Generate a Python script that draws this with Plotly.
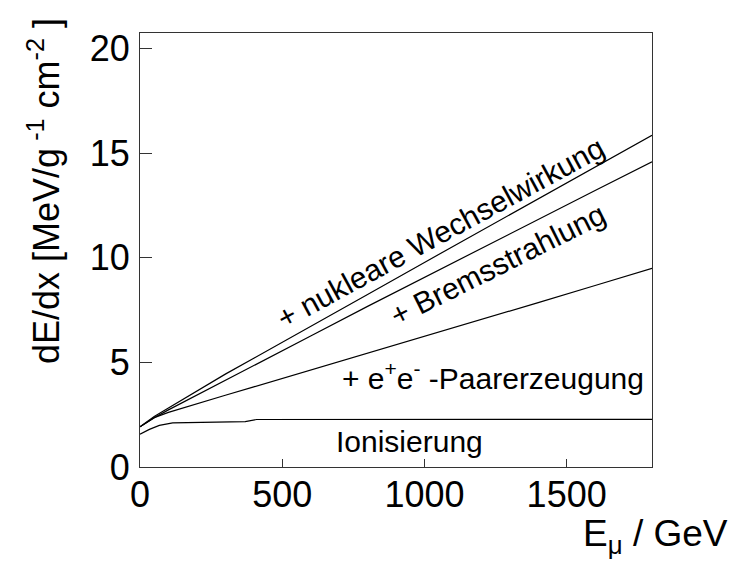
import plotly.graph_objects as go

# Muon energy grid (GeV) and cumulative energy loss dE/dx (MeV g^-1 cm^2)
energy = [0, 50, 100, 200, 300, 400, 500, 600, 800, 1000, 1200, 1400, 1600, 1800]
nuclear = [1.92, 2.41, 2.82, 3.64, 4.44, 5.20, 5.97, 6.72, 8.25, 9.78, 11.31, 12.82, 14.34, 15.86]
brems = [1.92, 2.35, 2.73, 3.43, 4.15, 4.86, 5.56, 6.26, 7.68, 9.07, 10.46, 11.85, 13.22, 14.59]
pair = [1.92, 2.36, 2.61, 3.03, 3.43, 3.83, 4.23, 4.63, 5.43, 6.23, 7.04, 7.86, 8.68, 9.50]

energy_ion = [0, 33, 68, 115, 370, 410, 1800]
ionisation = [1.57, 1.80, 1.99, 2.11, 2.17, 2.27, 2.28]

x_ticks = [0, 500, 1000, 1500]
y_ticks = [0, 5, 10, 15, 20]

FONT = "Liberation Sans, Arial, Helvetica, sans-serif"
line_style = dict(color="black", width=1.2)

fig = go.Figure()
for xs, ys in [(energy_ion, ionisation), (energy, pair), (energy, brems), (energy, nuclear)]:
    fig.add_trace(go.Scatter(x=xs, y=ys, mode="lines", line=line_style,
                             showlegend=False, hoverinfo="skip"))

label_font = dict(family=FONT, size=30, color="black")
fig.add_annotation(x=1058, y=11.2, text="+ nukleare Wechselwirkung", textangle=-28.5,
                   showarrow=False, font=label_font)
fig.add_annotation(x=1259, y=9.66, text="+ Bremsstrahlung", textangle=-26.5,
                   showarrow=False, font=label_font)
fig.add_annotation(x=703, y=4.35, text="+ e<sup>+</sup>e<sup>-</sup> -Paarerzeugung",
                   xanchor="left", showarrow=False, font=label_font)
fig.add_annotation(x=946, y=1.24, text="Ionisierung", showarrow=False, font=label_font)

title_font = dict(family=FONT, size=37, color="black")
fig.add_annotation(xref="paper", yref="paper", x=1.152, y=-0.158, xanchor="right",
                   yanchor="middle", text="E<sub>μ</sub> / GeV", showarrow=False,
                   font=title_font)
fig.add_annotation(xref="paper", yref="paper", x=-0.1875, y=0.636, textangle=-90,
                   xanchor="center", yanchor="middle",
                   text="dE/dx [MeV/g<sup> -1</sup> cm<sup>-2</sup> ]",
                   showarrow=False, font=dict(family=FONT, size=36, color="black"))

axis_common = dict(showgrid=False, zeroline=False, showline=True, linecolor="#333333",
                   linewidth=1, mirror=True, ticks="inside", tickcolor="#333333",
                   tickfont=dict(family=FONT, size=36, color="black"))

fig.update_xaxes(range=[0, 1800], tickvals=x_ticks, ticklen=8, ticklabelstandoff=-4,
                 **axis_common)
fig.update_yaxes(range=[0, 20.75], tickvals=y_ticks, ticklen=12, ticklabelstandoff=2,
                 **axis_common)

fig.update_layout(width=733, height=565, margin=dict(l=140, r=81, t=33, b=98),
                  plot_bgcolor="white", paper_bgcolor="white",
                  font=dict(family=FONT))

fig.write_html("out.html")
